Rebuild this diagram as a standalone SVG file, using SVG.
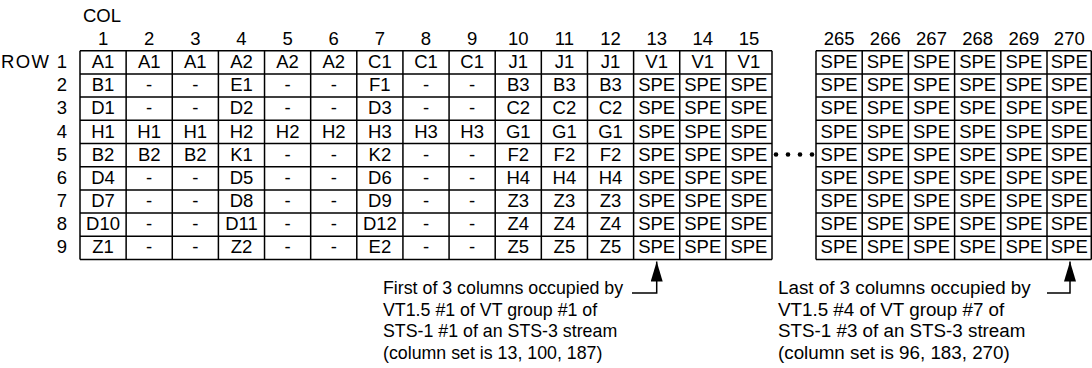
<svg xmlns="http://www.w3.org/2000/svg" width="1092" height="368" viewBox="0 0 1092 368">
<style>
text{font-family:"Liberation Sans",Arial,sans-serif;font-size:18.5px;fill:#000}
.m{text-anchor:middle}
.e{text-anchor:end}
.nl text{font-size:17.8px}
.nr text{font-size:18.8px}
.grid{fill:none;stroke:#000;stroke-width:1.5}
.conn{fill:none;stroke:#000;stroke-width:1.5}
</style>
<defs>
<marker id="ah" viewBox="0 0 20 12" refX="20" refY="6" markerWidth="20" markerHeight="12" markerUnits="userSpaceOnUse" orient="auto">
<path d="M0,0 L20,6 L0,12 Z" fill="#000"/>
</marker>
</defs>
<rect width="1092" height="368" fill="#fff"/>

<g id="headers">
<text x="83" y="22">COL</text>
<g class="m">
<text x="103.07" y="45">1</text><text x="149.2" y="45">2</text><text x="195.33" y="45">3</text><text x="241.47" y="45">4</text><text x="287.6" y="45">5</text><text x="333.73" y="45">6</text><text x="379.87" y="45">7</text><text x="426" y="45">8</text><text x="472.13" y="45">9</text><text x="518.27" y="45">10</text><text x="564.4" y="45">11</text><text x="610.53" y="45">12</text><text x="656.67" y="45">13</text><text x="702.8" y="45">14</text><text x="748.93" y="45">15</text>
<text x="839.1" y="45">265</text><text x="885.3" y="45">266</text><text x="931.5" y="45">267</text><text x="977.7" y="45">268</text><text x="1023.9" y="45">269</text><text x="1069.3" y="45">270</text>
</g>
<g class="e">
<text x="67" y="68.3" textLength="66" lengthAdjust="spacing">ROW 1</text><text x="67" y="91.4">2</text><text x="67" y="114.4">3</text><text x="67" y="137.5">4</text><text x="67" y="160.5">5</text><text x="67" y="183.6">6</text><text x="67" y="206.6">7</text><text x="67" y="229.7">8</text><text x="67" y="252.7">9</text>
</g>
</g>

<g id="table-left">
<path class="grid" d="M80,50.7V259.5M126.13,50.7V259.5M172.27,50.7V259.5M218.4,50.7V259.5M264.53,50.7V259.5M310.67,50.7V259.5M356.8,50.7V259.5M402.93,50.7V259.5M449.07,50.7V259.5M495.2,50.7V259.5M541.33,50.7V259.5M587.47,50.7V259.5M633.6,50.7V259.5M679.73,50.7V259.5M725.87,50.7V259.5M772,50.7V259.5
M80,50.7H772M80,73.9H772M80,97.1H772M80,120.3H772M80,143.5H772M80,166.7H772M80,189.9H772M80,213.1H772M80,236.3H772M80,259.5H772"/>
<g class="m">
<g id="row1"><text x="103.07" y="68.3">A1</text><text x="149.2" y="68.3">A1</text><text x="195.33" y="68.3">A1</text><text x="241.47" y="68.3">A2</text><text x="287.6" y="68.3">A2</text><text x="333.73" y="68.3">A2</text><text x="379.87" y="68.3">C1</text><text x="426" y="68.3">C1</text><text x="472.13" y="68.3">C1</text><text x="518.27" y="68.3">J1</text><text x="564.4" y="68.3">J1</text><text x="610.53" y="68.3">J1</text><text x="656.67" y="68.3">V1</text><text x="702.8" y="68.3">V1</text><text x="748.93" y="68.3">V1</text></g>
<g id="row2"><text x="103.07" y="91.4">B1</text><text x="149.2" y="91.4">-</text><text x="195.33" y="91.4">-</text><text x="241.47" y="91.4">E1</text><text x="287.6" y="91.4">-</text><text x="333.73" y="91.4">-</text><text x="379.87" y="91.4">F1</text><text x="426" y="91.4">-</text><text x="472.13" y="91.4">-</text><text x="518.27" y="91.4">B3</text><text x="564.4" y="91.4">B3</text><text x="610.53" y="91.4">B3</text><text x="656.67" y="91.4">SPE</text><text x="702.8" y="91.4">SPE</text><text x="748.93" y="91.4">SPE</text></g>
<g id="row3"><text x="103.07" y="114.4">D1</text><text x="149.2" y="114.4">-</text><text x="195.33" y="114.4">-</text><text x="241.47" y="114.4">D2</text><text x="287.6" y="114.4">-</text><text x="333.73" y="114.4">-</text><text x="379.87" y="114.4">D3</text><text x="426" y="114.4">-</text><text x="472.13" y="114.4">-</text><text x="518.27" y="114.4">C2</text><text x="564.4" y="114.4">C2</text><text x="610.53" y="114.4">C2</text><text x="656.67" y="114.4">SPE</text><text x="702.8" y="114.4">SPE</text><text x="748.93" y="114.4">SPE</text></g>
<g id="row4"><text x="103.07" y="137.5">H1</text><text x="149.2" y="137.5">H1</text><text x="195.33" y="137.5">H1</text><text x="241.47" y="137.5">H2</text><text x="287.6" y="137.5">H2</text><text x="333.73" y="137.5">H2</text><text x="379.87" y="137.5">H3</text><text x="426" y="137.5">H3</text><text x="472.13" y="137.5">H3</text><text x="518.27" y="137.5">G1</text><text x="564.4" y="137.5">G1</text><text x="610.53" y="137.5">G1</text><text x="656.67" y="137.5">SPE</text><text x="702.8" y="137.5">SPE</text><text x="748.93" y="137.5">SPE</text></g>
<g id="row5"><text x="103.07" y="160.5">B2</text><text x="149.2" y="160.5">B2</text><text x="195.33" y="160.5">B2</text><text x="241.47" y="160.5">K1</text><text x="287.6" y="160.5">-</text><text x="333.73" y="160.5">-</text><text x="379.87" y="160.5">K2</text><text x="426" y="160.5">-</text><text x="472.13" y="160.5">-</text><text x="518.27" y="160.5">F2</text><text x="564.4" y="160.5">F2</text><text x="610.53" y="160.5">F2</text><text x="656.67" y="160.5">SPE</text><text x="702.8" y="160.5">SPE</text><text x="748.93" y="160.5">SPE</text></g>
<g id="row6"><text x="103.07" y="183.6">D4</text><text x="149.2" y="183.6">-</text><text x="195.33" y="183.6">-</text><text x="241.47" y="183.6">D5</text><text x="287.6" y="183.6">-</text><text x="333.73" y="183.6">-</text><text x="379.87" y="183.6">D6</text><text x="426" y="183.6">-</text><text x="472.13" y="183.6">-</text><text x="518.27" y="183.6">H4</text><text x="564.4" y="183.6">H4</text><text x="610.53" y="183.6">H4</text><text x="656.67" y="183.6">SPE</text><text x="702.8" y="183.6">SPE</text><text x="748.93" y="183.6">SPE</text></g>
<g id="row7"><text x="103.07" y="206.6">D7</text><text x="149.2" y="206.6">-</text><text x="195.33" y="206.6">-</text><text x="241.47" y="206.6">D8</text><text x="287.6" y="206.6">-</text><text x="333.73" y="206.6">-</text><text x="379.87" y="206.6">D9</text><text x="426" y="206.6">-</text><text x="472.13" y="206.6">-</text><text x="518.27" y="206.6">Z3</text><text x="564.4" y="206.6">Z3</text><text x="610.53" y="206.6">Z3</text><text x="656.67" y="206.6">SPE</text><text x="702.8" y="206.6">SPE</text><text x="748.93" y="206.6">SPE</text></g>
<g id="row8"><text x="103.07" y="229.7">D10</text><text x="149.2" y="229.7">-</text><text x="195.33" y="229.7">-</text><text x="241.47" y="229.7">D11</text><text x="287.6" y="229.7">-</text><text x="333.73" y="229.7">-</text><text x="379.87" y="229.7">D12</text><text x="426" y="229.7">-</text><text x="472.13" y="229.7">-</text><text x="518.27" y="229.7">Z4</text><text x="564.4" y="229.7">Z4</text><text x="610.53" y="229.7">Z4</text><text x="656.67" y="229.7">SPE</text><text x="702.8" y="229.7">SPE</text><text x="748.93" y="229.7">SPE</text></g>
<g id="row9"><text x="103.07" y="252.7">Z1</text><text x="149.2" y="252.7">-</text><text x="195.33" y="252.7">-</text><text x="241.47" y="252.7">Z2</text><text x="287.6" y="252.7">-</text><text x="333.73" y="252.7">-</text><text x="379.87" y="252.7">E2</text><text x="426" y="252.7">-</text><text x="472.13" y="252.7">-</text><text x="518.27" y="252.7">Z5</text><text x="564.4" y="252.7">Z5</text><text x="610.53" y="252.7">Z5</text><text x="656.67" y="252.7">SPE</text><text x="702.8" y="252.7">SPE</text><text x="748.93" y="252.7">SPE</text></g>
</g>
</g>

<g id="ellipsis">
<circle cx="776" cy="154.5" r="2.3"/><circle cx="788" cy="154.5" r="2.3"/><circle cx="800" cy="154.5" r="2.3"/><circle cx="812" cy="154.5" r="2.3"/>
</g>

<g id="table-right">
<path class="grid" d="M816,50.7V259.5M862.2,50.7V259.5M908.4,50.7V259.5M954.6,50.7V259.5M1000.8,50.7V259.5M1047,50.7V259.5M1091.3,50.7V259.5
M816,50.7H1091.3M816,73.9H1091.3M816,97.1H1091.3M816,120.3H1091.3M816,143.5H1091.3M816,166.7H1091.3M816,189.9H1091.3M816,213.1H1091.3M816,236.3H1091.3M816,259.5H1091.3"/>
<g class="m">
<text x="839.1" y="68.3">SPE</text><text x="885.3" y="68.3">SPE</text><text x="931.5" y="68.3">SPE</text><text x="977.7" y="68.3">SPE</text><text x="1023.9" y="68.3">SPE</text><text x="1069.3" y="68.3">SPE</text>
<text x="839.1" y="91.4">SPE</text><text x="885.3" y="91.4">SPE</text><text x="931.5" y="91.4">SPE</text><text x="977.7" y="91.4">SPE</text><text x="1023.9" y="91.4">SPE</text><text x="1069.3" y="91.4">SPE</text>
<text x="839.1" y="114.4">SPE</text><text x="885.3" y="114.4">SPE</text><text x="931.5" y="114.4">SPE</text><text x="977.7" y="114.4">SPE</text><text x="1023.9" y="114.4">SPE</text><text x="1069.3" y="114.4">SPE</text>
<text x="839.1" y="137.5">SPE</text><text x="885.3" y="137.5">SPE</text><text x="931.5" y="137.5">SPE</text><text x="977.7" y="137.5">SPE</text><text x="1023.9" y="137.5">SPE</text><text x="1069.3" y="137.5">SPE</text>
<text x="839.1" y="160.5">SPE</text><text x="885.3" y="160.5">SPE</text><text x="931.5" y="160.5">SPE</text><text x="977.7" y="160.5">SPE</text><text x="1023.9" y="160.5">SPE</text><text x="1069.3" y="160.5">SPE</text>
<text x="839.1" y="183.6">SPE</text><text x="885.3" y="183.6">SPE</text><text x="931.5" y="183.6">SPE</text><text x="977.7" y="183.6">SPE</text><text x="1023.9" y="183.6">SPE</text><text x="1069.3" y="183.6">SPE</text>
<text x="839.1" y="206.6">SPE</text><text x="885.3" y="206.6">SPE</text><text x="931.5" y="206.6">SPE</text><text x="977.7" y="206.6">SPE</text><text x="1023.9" y="206.6">SPE</text><text x="1069.3" y="206.6">SPE</text>
<text x="839.1" y="229.7">SPE</text><text x="885.3" y="229.7">SPE</text><text x="931.5" y="229.7">SPE</text><text x="977.7" y="229.7">SPE</text><text x="1023.9" y="229.7">SPE</text><text x="1069.3" y="229.7">SPE</text>
<text x="839.1" y="252.7">SPE</text><text x="885.3" y="252.7">SPE</text><text x="931.5" y="252.7">SPE</text><text x="977.7" y="252.7">SPE</text><text x="1023.9" y="252.7">SPE</text><text x="1069.3" y="252.7">SPE</text>
</g>
</g>

<g id="note-first" class="nl">
<text x="383" y="294">First of 3 columns occupied by</text>
<text x="383" y="315.5">VT1.5 #1 of VT group #1 of</text>
<text x="383" y="337">STS-1 #1 of an STS-3 stream</text>
<text x="383" y="358.5">(column set is 13, 100, 187)</text>
</g>
<g id="note-last" class="nr">
<text x="778" y="294">Last of 3 columns occupied by</text>
<text x="778" y="315.5">VT1.5 #4 of VT group #7 of</text>
<text x="778" y="337">STS-1 #3 of an STS-3 stream</text>
<text x="778" y="358.5">(column set is 96, 183, 270)</text>
</g>

<g id="connectors">
<path class="conn" d="M632,293H656.7V261.5" marker-end="url(#ah)"/>
<path class="conn" d="M1047,293H1070V261.5" marker-end="url(#ah)"/>
</g>
</svg>
